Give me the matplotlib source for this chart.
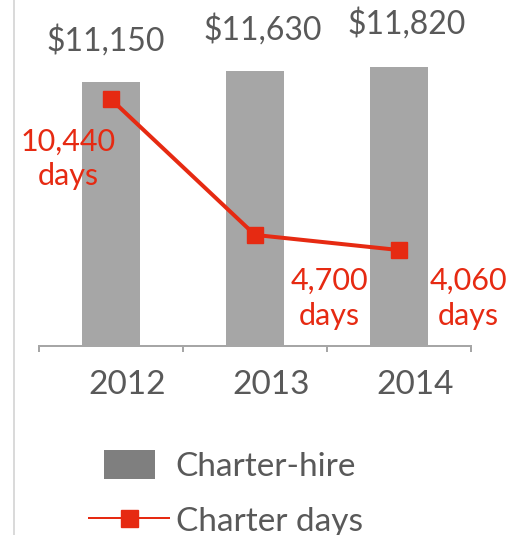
import matplotlib
matplotlib.use("Agg")
import matplotlib.pyplot as plt
from matplotlib.patches import Patch, Rectangle
from matplotlib.lines import Line2D
from matplotlib.legend_handler import HandlerPatch
from matplotlib.transforms import ScaledTranslation

# ---- data ----
years = ["2012", "2013", "2014"]
charter_hire = [11150, 11630, 11820]
charter_hire_labels = ["$11,150", "$11,630", "$11,820"]
charter_days = [10440, 4700, 4060]
charter_days_labels = ["10,440\ndays", "4,700\ndays", "4,060\ndays"]

BAR = "#a6a6a6"
BAR_LEG = "#7f7f7f"
RED = "#e62a12"
TXT = "#595959"
AX = "#a6a6a6"

plt.rcParams["font.family"] = ["Lato", "DejaVu Sans"]

W, H, DPI = 526, 535, 100
fig = plt.figure(figsize=(W / DPI, H / DPI), dpi=DPI)
px = 72.0 / DPI  # points per pixel

ax = fig.add_axes([39 / W, (H - 346) / H, (471 - 39) / W, 346 / H])
x = list(range(len(years)))
ax.bar(x, charter_hire, width=0.40, color=BAR, zorder=1)
ax.plot(x, charter_days, color=RED, lw=4 * px, marker="s", markersize=16 * px,
        zorder=3)
ax.set_xlim(-0.5, 2.5)
ax.set_ylim(0, 14640)

# spines / ticks
for s in ["top", "right", "left"]:
    ax.spines[s].set_visible(False)
ax.spines["bottom"].set_color(AX)
ax.spines["bottom"].set_linewidth(2 * px)
ax.set_yticks([])
ax.set_xticks(x)
ax.set_xticklabels(years, fontsize=24, color=TXT)
ax.set_xticks([-0.5, 0.5, 1.5, 2.5], minor=True)
ax.tick_params(axis="x", which="major", length=0, pad=17)
ax.tick_params(axis="x", which="minor", length=6 * px, width=2 * px,
               color=AX, direction="out")
for lab in ax.get_xticklabels():
    lab.set_transform(lab.get_transform() +
                      ScaledTranslation(16 / DPI, 0, fig.dpi_scale_trans))

# bar value labels
bar_offsets = [(-5, 32), (8, 32), (8, 33)]
for xi, v, lab, (dx, dy) in zip(x, charter_hire, charter_hire_labels, bar_offsets):
    ax.annotate(lab, (xi, v), xytext=(dx * px, dy * px), textcoords="offset points",
                ha="center", va="baseline", fontsize=23, color=TXT)

# line value labels (offset to baseline of last line)
day_offsets = [(-43, -86), (74, -90), (69, -75)]
for xi, v, lab, (dx, dy) in zip(x, charter_days, charter_days_labels, day_offsets):
    ax.annotate(lab, (xi, v), xytext=(dx * px, dy * px), textcoords="offset points",
                ha="center", va="baseline", fontsize=22, color=RED,
                multialignment="center", linespacing=1.3)

# left border line
fig.add_artist(Line2D([13.5 / W, 13.5 / W], [0, 1], color="#dadada", lw=2 * px,
                      transform=fig.transFigure))

# legend
def rect_patch(legend, orig_handle, xdescent, ydescent, width, height, fontsize):
    w, h = 51 * px, 29 * px
    return Rectangle((-xdescent + (width - w) / 2, -ydescent + (height - h) / 2), w, h)

h_bar = Patch(facecolor=BAR_LEG, label="Charter-hire")
h_line = Line2D([], [], color=RED, lw=2 * px, marker="s", markersize=17 * px,
                label="Charter days")
leg = fig.legend(handles=[h_bar, h_line], loc="upper left",
                 bbox_to_anchor=(89 / W, 1 - 450 / H), frameon=False,
                 fontsize=24, labelcolor=TXT, handlelength=80 * px / 24,
                 handleheight=1.0, handletextpad=0.2, labelspacing=0.68,
                 borderpad=0, borderaxespad=0,
                 handler_map={Patch: HandlerPatch(patch_func=rect_patch)})

fig.savefig("out.png", dpi=DPI)
